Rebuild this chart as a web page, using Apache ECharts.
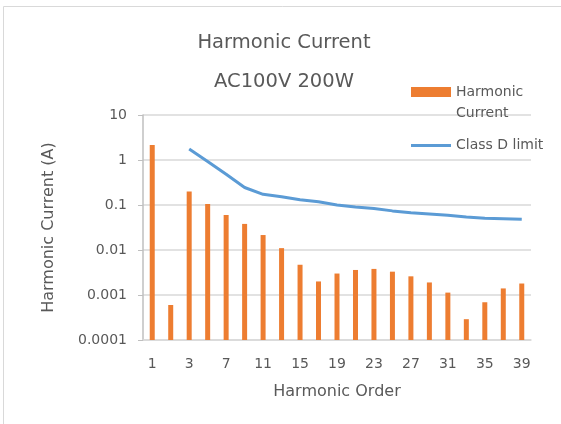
<!DOCTYPE html>
<html>
<head>
<meta charset="utf-8">
<script src="https://cdn.jsdelivr.net/npm/echarts@6/dist/echarts.min.js"></script>
<style>
  html, body { margin: 0; padding: 0; background: #fff; }
  #main { width: 561px; height: 424px; }
</style>
</head>
<body>
<div id="main"></div>
<script>
var orders = ['1', '2', '3', '5', '7', '9', '11', '13', '15', '17', '19', '21', '23', '25', '27', '29', '31', '33', '35', '37', '39'];
var harmonicCurrent = [2.15, 0.0006, 0.2, 0.105, 0.06, 0.038, 0.0215, 0.011, 0.0047, 0.002, 0.003, 0.0036, 0.0038, 0.0033, 0.0026, 0.0019, 0.00113, 0.00029, 0.00069, 0.0014, 0.0018];
var classDLimit = [null, null, 1.75, 0.93, 0.48, 0.245, 0.173, 0.153, 0.131, 0.118, 0.1, 0.09, 0.084, 0.074, 0.067, 0.063, 0.059, 0.054, 0.051, 0.0497, 0.048];
var yTickLabels = ['0.0001', '0.001', '0.01', '0.1', '1', '10'];

var font = 'DejaVu Sans';
var textColor = '#595959';

var chart = echarts.init(document.getElementById('main'));
var option = {
  animation: false,
  textStyle: {
    fontFamily: font
  },
  graphic: [{
    type: 'rect',
    shape: { x: 3.5, y: 6.5, width: 600, height: 500 },
    style: { fill: 'none', stroke: '#d9d9d9', lineWidth: 1 },
    z: -1
  }, {
    // second line of the wrapped legend label
    type: 'text',
    left: 456,
    top: 106,
    z: 100,
    style: {
      text: 'Current',
      fill: textColor,
      fontSize: 14,
      fontFamily: font
    }
  }],
  title: {
    text: 'Harmonic Current\nAC100V 200W',
    left: 279,
    top: 19,
    textAlign: 'center',
    textStyle: {
      color: textColor,
      fontSize: 19.5,
      fontWeight: 'normal',
      lineHeight: 38.5,
      fontFamily: font
    }
  },
  legend: [{
    orient: 'vertical',
    left: 411,
    top: 85,
    padding: 0,
    itemWidth: 40,
    itemHeight: 10,
    data: [{ name: 'Harmonic Current', icon: 'rect' }],
    formatter: function () {
      return 'Harmonic';
    },
    textStyle: {
      color: textColor,
      fontSize: 14,
      fontFamily: font
    }
  }, {
    orient: 'vertical',
    left: 411,
    top: 138.5,
    padding: 0,
    itemWidth: 40,
    itemHeight: 3,
    data: [{ name: 'Class D limit', icon: 'rect' }],
    textStyle: {
      color: textColor,
      fontSize: 14,
      fontFamily: font
    }
  }],
  grid: {
    left: 143,
    right: 30,
    top: 115,
    bottom: 84
  },
  xAxis: {
    type: 'category',
    data: orders,
    name: 'Harmonic Order',
    nameLocation: 'middle',
    nameGap: 44,
    nameTextStyle: {
      color: textColor,
      fontSize: 16,
      fontFamily: font
    },
    axisLine: {
      onZero: false,
      lineStyle: { color: '#d9d9d9', width: 1.5 }
    },
    axisTick: { show: false },
    axisLabel: {
      interval: 1,
      color: textColor,
      fontSize: 14,
      margin: 17,
      fontFamily: font
    }
  },
  yAxis: {
    type: 'log',
    logBase: 10,
    min: 0.0001,
    max: 10,
    startValue: 0.0001,
    name: 'Harmonic Current (A)',
    nameLocation: 'middle',
    nameGap: 86,
    nameTextStyle: {
      color: textColor,
      fontSize: 16,
      fontFamily: font
    },
    axisLine: {
      show: true,
      lineStyle: { color: '#bfbfbf', width: 1.5 }
    },
    axisTick: {
      show: true,
      length: 5,
      lineStyle: { color: '#bfbfbf' }
    },
    axisLabel: {
      color: textColor,
      fontSize: 14,
      margin: 16,
      fontFamily: font,
      formatter: function (v) {
        return yTickLabels[Math.round(Math.log10(v)) + 4];
      }
    },
    splitLine: {
      lineStyle: { color: '#d9d9d9', width: 1.5 }
    }
  },
  series: [{
    name: 'Harmonic Current',
    type: 'bar',
    data: harmonicCurrent,
    barWidth: 5,
    itemStyle: { color: '#ed7d31' }
  }, {
    name: 'Class D limit',
    type: 'line',
    data: classDLimit,
    showSymbol: false,
    symbol: 'none',
    lineStyle: { color: '#5b9bd5', width: 3 },
    itemStyle: { color: '#5b9bd5' }
  }]
};
chart.setOption(option);
</script>
</body>
</html>
